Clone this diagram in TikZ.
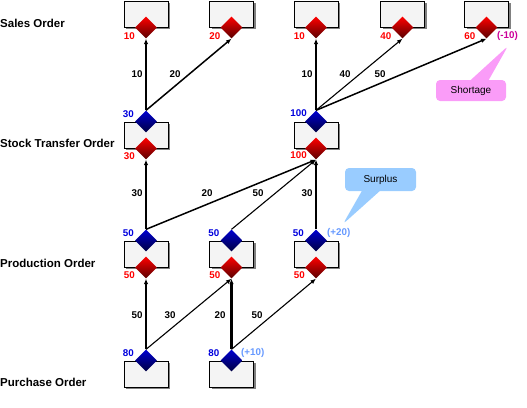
\documentclass[tikz,border=0pt]{standalone}
\usepackage{fontspec}
\setmainfont{Liberation Sans}
\usetikzlibrary{shapes.geometric,shapes.callouts,arrows.meta,shadows}
\definecolor{boxfill}{HTML}{F4F4F4}
\definecolor{redtop}{HTML}{FF0000}
\definecolor{redbot}{HTML}{5A0000}
\definecolor{bluetop}{HTML}{0000D0}
\definecolor{bluebot}{HTML}{000040}
\definecolor{bluetxt}{HTML}{0000DD}
\definecolor{negtxt}{HTML}{CC0099}
\definecolor{postxt}{HTML}{6699FF}
\definecolor{pinkc}{HTML}{FA9CF8}
\definecolor{skyc}{HTML}{99CCFF}
\tikzset{
  box/.style={draw=black, line width=0.9pt, fill=boxfill, minimum width=44pt, minimum height=26pt, inner sep=0pt,
    drop shadow={shadow xshift=2pt, shadow yshift=-2pt, fill=black!50, opacity=1}},
  dia/.style={diamond, minimum width=22pt, minimum height=22pt, inner sep=0pt, draw=none},
  reddia/.style={dia, top color=redtop, bottom color=redbot},
  bluedia/.style={dia, top color=bluetop, bottom color=bluebot},
  num/.style={font=\fontsize{9.8}{10}\selectfont\bfseries, inner sep=0pt},
  rnum/.style={num, text=red, anchor=east},
  bnum/.style={num, text=bluetxt, anchor=east},
  elab/.style={num, text=black},
  rowlab/.style={font=\fontsize{11.5}{12}\selectfont\bfseries, inner sep=0pt, anchor=west},
  flow/.style={line width=1.5pt, -{Latex[length=5.5pt,width=4.5pt]}},
  vflow/.style={flow, line width=2.1pt},
  thinflow/.style={flow, line width=1.1pt},
  note/.style={rectangle callout, rounded corners=4pt, inner sep=0pt, callout pointer width=18pt,
    font=\fontsize{10}{11}\selectfont},
}
\begin{document}
\begin{tikzpicture}[x=1pt,y=-1pt]
\useasboundingbox (0,0) rectangle (527,407);

% row labels
\node[rowlab] (lsales) at (0,23) {Sales Order};
\node[rowlab] (lstock) at (0,143) {Stock Transfer Order};
\node[rowlab] (lprod) at (0,263) {Production Order};
\node[rowlab] (lpurch) at (0,382) {Purchase Order};

% boxes
\node[box] (s1) at (146,14) {};
\node[box] (s2) at (231.5,14) {};
\node[box] (s3) at (316,14) {};
\node[box] (s4) at (402.5,14) {};
\node[box] (s5) at (486.5,14) {};
\node[box] (t1) at (146,135) {};
\node[box] (t3) at (316,135) {};
\node[box] (p1) at (146,254) {};
\node[box] (p2) at (231.5,254) {};
\node[box] (p3) at (316,254) {};
\node[box] (u1) at (146,374) {};
\node[box] (u2) at (231.5,374) {};

% diamonds
\node[reddia] (sr1) at (s1.south) {};
\node[reddia] (sr2) at (s2.south) {};
\node[reddia] (sr3) at (s3.south) {};
\node[reddia] (sr4) at (s4.south) {};
\node[reddia] (sr5) at (s5.south) {};
\node[bluedia] (tb1) at (t1.north) {};
\node[reddia] (tr1) at (t1.south) {};
\node[bluedia] (tb3) at (t3.north) {};
\node[reddia] (tr3) at (t3.south) {};
\node[bluedia] (pb1) at (p1.north) {};
\node[reddia] (pr1) at (p1.south) {};
\node[bluedia] (pb2) at (p2.north) {};
\node[reddia] (pr2) at (p2.south) {};
\node[bluedia] (pb3) at (p3.north) {};
\node[reddia] (pr3) at (p3.south) {};
\node[bluedia] (ub1) at (u1.north) {};
\node[bluedia] (ub2) at (u2.north) {};

% quantities at diamonds
\node[rnum] (qs1) at (135,36) {10};
\node[rnum] (qs2) at (220.5,36) {20};
\node[rnum] (qs3) at (305,36) {10};
\node[rnum] (qs4) at (391.5,36) {40};
\node[rnum] (qs5) at (475.5,36) {60};
\node[num, text=negtxt, anchor=west] (neg) at (497,36) {(-10)};
\node[bnum] (qtb1) at (134,114) {30};
\node[rnum] (qtr1) at (135,156) {30};
\node[bnum] (qtb3) at (307,113) {100};
\node[rnum] (qtr3) at (307,155) {100};
\node[bnum] (qpb1) at (134,233) {50};
\node[rnum] (qpr1) at (135,275) {50};
\node[bnum] (qpb2) at (219.5,233) {50};
\node[rnum] (qpr2) at (220.5,275) {50};
\node[bnum] (qpb3) at (304,233) {50};
\node[rnum] (qpr3) at (305,275) {50};
\node[num, text=postxt, anchor=west] (pos3) at (327,233) {(+20)};
\node[bnum] (qub1) at (134,353) {80};
\node[bnum] (qub2) at (219.5,353) {80};
\node[num, text=postxt, anchor=west] (pos2) at (241,353) {(+10)};

% flows: stock transfer -> sales
\draw[vflow] (tb1.north) -- (sr1.south);
\draw[flow] (tb1.north) -- (sr2.south);
\draw[vflow] (tb3.north) -- (sr3.south);
\draw[thinflow] (tb3.north) -- (sr4.south);
\draw[flow] (tb3.north) -- (sr5.south);
% production -> stock transfer
\draw[vflow] (pb1.north) -- (tr1.south);
\draw[flow] (pb1.north) -- (tr3.south);
\draw[thinflow] (pb2.north) -- (tr3.south);
\draw[vflow] (pb3.north) -- (tr3.south);
% purchase -> production
\draw[vflow, line width=2.6pt] (ub1.north) -- (pr1.south);
\draw[thinflow] (ub1.north) -- (pr2.south);
\draw[vflow] (ub2.north) -- (pr2.south);
\draw[thinflow] (ub2.north) -- (pr3.south);

% flow quantities
\node[elab] (e1) at (137,74) {10};
\node[elab] (e2) at (175,74) {20};
\node[elab] (e3) at (307,74) {10};
\node[elab] (e4) at (345,74) {40};
\node[elab] (e5) at (380,74) {50};
\node[elab] (e6) at (137,193) {30};
\node[elab] (e7) at (207,193) {20};
\node[elab] (e8) at (258,193) {50};
\node[elab] (e9) at (307,193) {30};
\node[elab] (e10) at (137,315) {50};
\node[elab] (e11) at (170,315) {30};
\node[elab] (e12) at (220,315) {20};
\node[elab] (e13) at (257,315) {50};

% callouts
\node[note, fill=pinkc, minimum width=70pt, minimum height=21pt,
  callout absolute pointer={(508,46)}] (short) at (471,90.5) {Shortage};
\node[note, fill=skyc, minimum width=71pt, minimum height=23pt,
  callout absolute pointer={(343,224)}] (surp) at (380.5,179.5) {Surplus};
\end{tikzpicture}
\end{document}
